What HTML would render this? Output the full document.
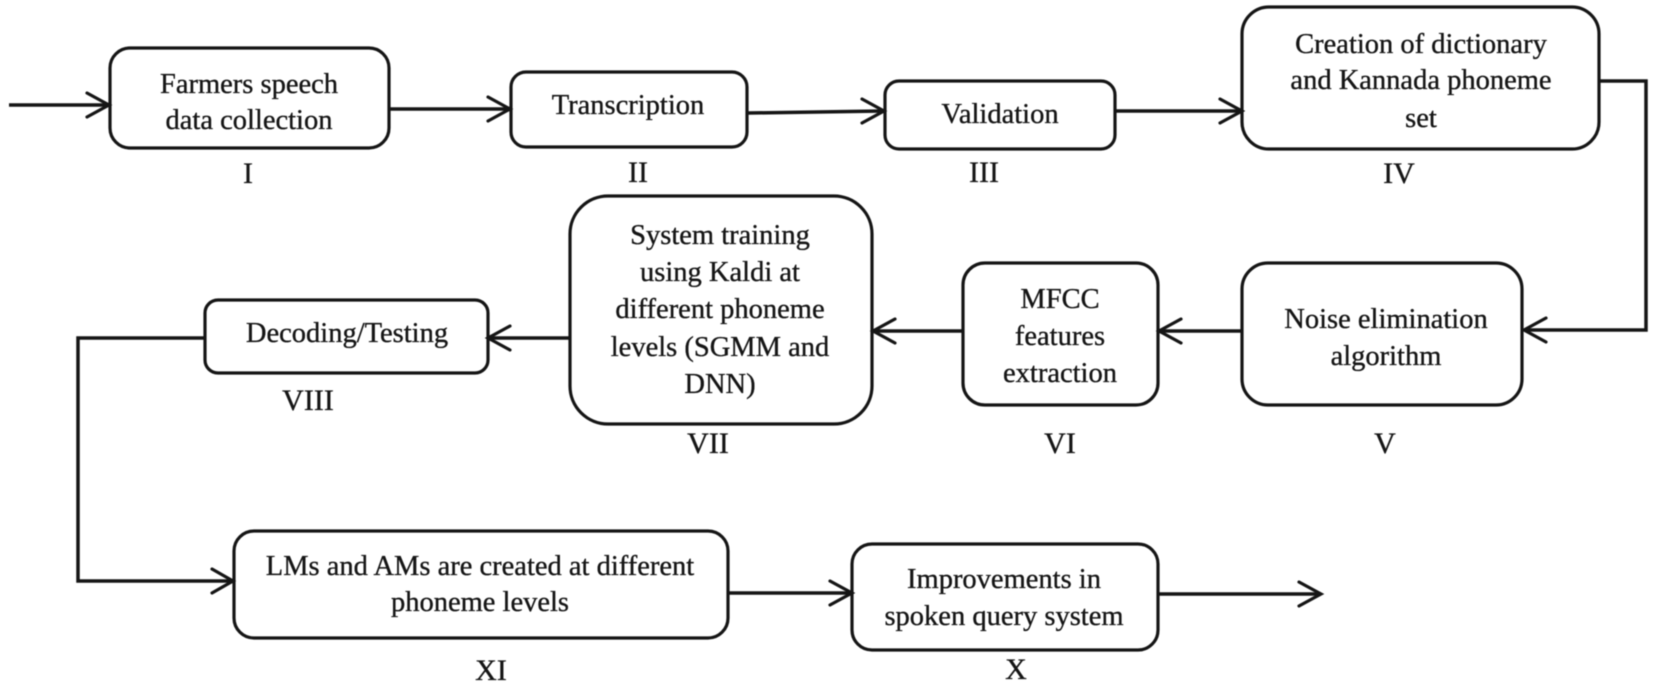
<!DOCTYPE html>
<html>
<head>
<meta charset="utf-8">
<style>
html,body{margin:0;padding:0;background:#fff;width:1654px;height:688px;overflow:hidden}
svg{display:block;filter:blur(0.5px)}
text{font-family:"Liberation Serif",serif;font-size:28.5px;fill:#151515;stroke:#151515;stroke-width:0.35;text-anchor:middle}
text.n{font-size:30px}
.b{fill:#fff;stroke:#151515;stroke-width:3.2}
.l{fill:none;stroke:#151515;stroke-width:3.5;stroke-linejoin:miter}
.a{fill:none;stroke:#151515;stroke-width:3.2;stroke-linecap:round;stroke-linejoin:miter}
</style>
</head>
<body>
<svg width="1654" height="688" viewBox="0 0 1654 688" xmlns="http://www.w3.org/2000/svg">
<rect class="b" x="110" y="48" width="279" height="100" rx="20"/>
<rect class="b" x="511" y="72" width="236" height="75" rx="15"/>
<rect class="b" x="885" y="81" width="230" height="68" rx="14"/>
<rect class="b" x="1242" y="7" width="357" height="142" rx="27"/>
<rect class="b" x="1242" y="263" width="280" height="142" rx="26"/>
<rect class="b" x="963" y="263" width="195" height="142" rx="22"/>
<rect class="b" x="570" y="196" width="302" height="228" rx="38"/>
<rect class="b" x="205" y="300" width="283" height="73" rx="13"/>
<rect class="b" x="234" y="531" width="494" height="107" rx="20"/>
<rect class="b" x="852" y="544" width="306" height="106" rx="20"/>

<path class="l" d="M9 105H108"/><path class="a" d="M87 93L109 105L87 117"/>
<path class="l" d="M389 109H509"/><path class="a" d="M488 97L510 109L488 121"/>
<path class="l" d="M748 113L882 111"/><path class="a" d="M862 99L884 111L862 123"/>
<path class="l" d="M1115 111H1240"/><path class="a" d="M1220 99L1242 111L1220 123"/>
<path class="l" d="M1599 81H1646V330H1526"/><path class="a" d="M1546 318L1524 330L1546 342"/>
<path class="l" d="M1242 331H1160"/><path class="a" d="M1181 319L1159 331L1181 343"/>
<path class="l" d="M963 331H875"/><path class="a" d="M895 319L873 331L895 343"/>
<path class="l" d="M570 338H490"/><path class="a" d="M510 326L488 338L510 350"/>
<path class="l" d="M205 338H78V581H232"/><path class="a" d="M212 569L233 581L212 593"/>
<path class="l" d="M728 593H850"/><path class="a" d="M830 581L852 593L830 605"/>
<path class="l" d="M1158 594H1320"/><path class="a" d="M1299 582L1321 594L1299 606"/>

<text x="249" y="93">Farmers speech</text>
<text x="249" y="129">data collection</text>
<text x="628" y="114">Transcription</text>
<text x="1000" y="123">Validation</text>
<text x="1421" y="53">Creation of dictionary</text>
<text x="1421" y="89">and Kannada phoneme</text>
<text x="1421" y="127">set</text>
<text x="1386" y="328">Noise elimination</text>
<text x="1386" y="365">algorithm</text>
<text x="1060" y="308">MFCC</text>
<text x="1060" y="345">features</text>
<text x="1060" y="382">extraction</text>
<text x="720" y="244">System training</text>
<text x="720" y="281">using Kaldi at</text>
<text x="720" y="318">different phoneme</text>
<text x="720" y="356">levels (SGMM and</text>
<text x="720" y="393">DNN)</text>
<text x="347" y="342">Decoding/Testing</text>
<text x="480" y="575">LMs and AMs are created at different</text>
<text x="480" y="611">phoneme levels</text>
<text x="1004" y="588">Improvements in</text>
<text x="1004" y="625">spoken query system</text>

<text class="n" x="248" y="183">I</text>
<text class="n" x="638" y="182">II</text>
<text class="n" x="984" y="182">III</text>
<text class="n" x="1399" y="183">IV</text>
<text class="n" x="1385" y="453">V</text>
<text class="n" x="1060" y="453">VI</text>
<text class="n" x="708" y="453">VII</text>
<text class="n" x="308" y="410">VIII</text>
<text class="n" x="491" y="680">XI</text>
<text class="n" x="1016" y="679">X</text>
</svg>
</body>
</html>
